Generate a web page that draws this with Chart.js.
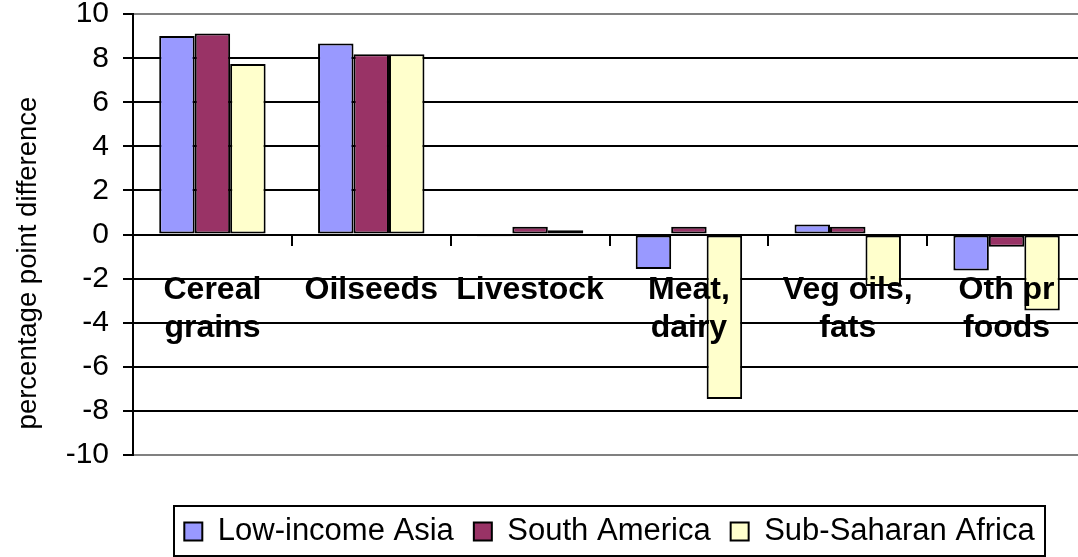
<!DOCTYPE html>
<html>
<head>
<meta charset="utf-8">
<script src="https://cdn.jsdelivr.net/npm/chart.js@4/dist/chart.umd.min.js"></script>
<style>
  html, body { margin: 0; padding: 0; background: #fff; overflow: hidden; }
  #wrap { width: 1100px; height: 557px; }
</style>
</head>
<body>
<div id="wrap"><canvas id="foodChart"></canvas></div>
<script>
// percentage point difference by commodity group and region
const categories = [
  ["Cereal", "grains"], "Oilseeds", "Livestock",
  ["Meat,", "dairy"], ["Veg oils,", "fats"], ["Oth pr", "foods"]
];
const lowIncomeAsia   = [9.01, 8.67, -0.08, -1.56, 0.46, -1.63];
const southAmerica    = [9.12, 8.18, 0.36, 0.36, 0.36, -0.55];
const subSaharanAfrica = [7.74, 8.18, 0.20, -7.46, -2.33, -3.45];
const yTicks = { min: -10, max: 10, step: 2 };

// frame round the legend + rotated axis title
const extras = {
  id: "extras",
  afterDraw(chart) {
    const c = chart.ctx;
    const boxes = chart.legend.legendHitBoxes;
    if (boxes && boxes.length) {
      const l = Math.round(Math.min(...boxes.map(b => b.left)) - 10);
      const r = Math.round(Math.max(...boxes.map(b => b.left + b.width)) + 10);
      const t = Math.round(boxes[0].top - 10);
      const bt = Math.round(boxes[0].top + boxes[0].height + 9);
      c.save();
      c.strokeStyle = "#000";
      c.lineWidth = 2;
      c.strokeRect(l, t, r - l, bt - t);
      c.restore();
    }
    c.save();
    c.translate(36, 263);
    c.rotate(-Math.PI / 2);
    c.font = "27.5px Arial";
    c.fillStyle = "#000";
    c.textAlign = "center";
    c.textBaseline = "alphabetic";
    c.fillText("percentage point difference", 0, 0);
    c.restore();
  }
};

const barStyle = { borderColor: "#000", borderWidth: 2, borderSkipped: false };

new Chart(document.getElementById("foodChart"), {
  type: "bar",
  data: {
    labels: categories,
    datasets: [
      { label: "Low-income Asia", data: lowIncomeAsia, backgroundColor: "#9999FF", ...barStyle },
      { label: "South America", data: southAmerica, backgroundColor: "#993366", ...barStyle },
      { label: "Sub-Saharan Africa", data: subSaharanAfrica, backgroundColor: "#FFFFCC", ...barStyle }
    ]
  },
  options: {
    responsive: true,
    maintainAspectRatio: false,
    animation: false,
    categoryPercentage: 0.67,
    barPercentage: 1.0,
    layout: { padding: { left: 0, right: 14, top: 0, bottom: 0 } },
    plugins: {
      tooltip: { enabled: false },
      legend: {
        position: "bottom",
        fullSize: false,
        labels: {
          color: "#000",
          font: { family: "Arial", size: 31 },
          boxWidth: 18,
          boxHeight: 18,
          padding: 20
        }
      }
    },
    scales: {
      x: {
        position: { y: 0 },
        grid: {
          drawOnChartArea: false,
          drawTicks: true,
          tickLength: 10,
          tickColor: "#000",
          lineWidth: 2,
          offset: true
        },
        border: { color: "#000", width: 2 },
        ticks: {
          z: 1, // category names sit on top of the bars
          color: "#000",
          font: { family: "Arial", size: 32, weight: "bold", lineHeight: 1.21 },
          padding: 26,
          maxRotation: 0,
          autoSkip: false
        }
      },
      // keeps room between the plot and the legend
      xGap: {
        axis: "x",
        type: "category",
        position: "bottom",
        grid: { display: false },
        border: { display: false },
        ticks: { display: false },
        afterFit(s) { s.height = 41; }
      },
      y: {
        min: yTicks.min,
        max: yTicks.max,
        ticks: {
          stepSize: yTicks.step,
          color: "#000",
          font: { family: "Arial", size: 30, lineHeight: 0.01 },
          padding: 14
        },
        grid: {
          color: ctx => (Math.abs(ctx.tick.value) === 10 ? "#808080" : "#000"),
          tickColor: "#000",
          tickLength: 10,
          lineWidth: 2
        },
        border: { color: "#000", width: 2 },
        afterFit(s) { s.width = 133; }
      }
    }
  },
  plugins: [extras]
});
</script>
</body>
</html>
